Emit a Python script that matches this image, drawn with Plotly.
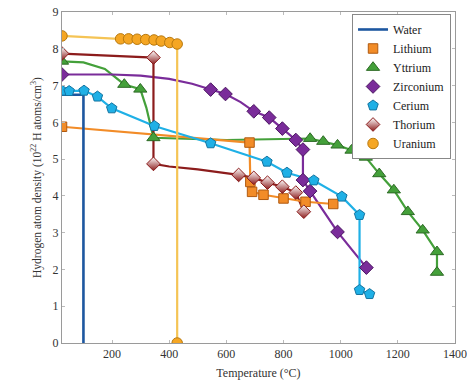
import plotly.graph_objects as go

# ---------------- data ----------------
water_T = [25, 100, 100]
water_H = [6.75, 6.75, 0]

lithium_T = [25, 681, 684, 690, 730, 800, 877, 974]
lithium_H = [5.88, 5.45, 4.38, 4.11, 4.03, 3.93, 3.84, 3.78]

yttrium_line_T = [25, 100, 175, 243, 299, 320, 345, 600, 893, 939, 989, 1038, 1088, 1135, 1186, 1235, 1287, 1337, 1337]
yttrium_line_H = [7.66, 7.63, 7.45, 7.03, 6.9, 6.4, 5.58, 5.52, 5.56, 5.48, 5.38, 5.24, 5.05, 4.6, 4.16, 3.57, 3.07, 2.48, 1.92]
yttrium_mk_T = [25, 243, 299, 345, 893, 939, 989, 1038, 1088, 1135, 1186, 1235, 1287, 1337, 1337]
yttrium_mk_H = [7.66, 7.03, 6.9, 5.58, 5.56, 5.48, 5.38, 5.24, 5.05, 4.6, 4.16, 3.57, 3.07, 2.48, 1.92]

zirconium_line_T = [25, 200, 300, 400, 480, 545, 597, 650, 696, 750, 796, 843, 868, 868, 893, 989, 1090]
zirconium_line_H = [7.3, 7.3, 7.27, 7.18, 7.05, 6.89, 6.77, 6.55, 6.3, 6.13, 5.83, 5.52, 5.26, 4.43, 4.13, 3.02, 2.05]
zirconium_mk_T = [25, 545, 597, 696, 750, 796, 843, 868, 868, 893, 989, 1090]
zirconium_mk_H = [7.3, 6.89, 6.77, 6.3, 6.13, 5.83, 5.52, 5.26, 4.43, 4.13, 3.02, 2.05]

cerium_T = [25, 50, 102, 149, 199, 348, 545, 742, 812, 906, 1004, 1066, 1066, 1101]
cerium_H = [6.86, 6.85, 6.86, 6.7, 6.38, 5.9, 5.43, 4.93, 4.63, 4.42, 3.98, 3.48, 1.44, 1.33]

thorium_line_T = [25, 345, 345, 400, 500, 600, 643, 696, 744, 796, 843, 871]
thorium_line_H = [7.87, 7.76, 4.87, 4.8, 4.72, 4.62, 4.57, 4.49, 4.36, 4.25, 4.09, 3.57]
thorium_mk_T = [25, 345, 345, 643, 696, 744, 796, 843, 871]
thorium_mk_H = [7.87, 7.76, 4.87, 4.57, 4.49, 4.36, 4.25, 4.09, 3.57]

uranium_T = [25, 230, 258, 288, 318, 347, 372, 402, 428, 428]
uranium_H = [8.35, 8.27, 8.27, 8.26, 8.25, 8.24, 8.21, 8.17, 8.13, 0]

x_ticks = [200, 400, 600, 800, 1000, 1200, 1400]
y_ticks = [0, 1, 2, 3, 4, 5, 6, 7, 8, 9]

# ---------------- styles ----------------
C_WATER = "#1d57a0"
C_LI = "#f28c28"
C_Y = "#44a03a"
C_ZR = "#7a2c9a"
C_CE = "#1fb0e6"
C_TH = "#8c1c1c"
LW = 2.2

fig = go.Figure()

def add_line(x, y, color, width=LW):
    fig.add_trace(go.Scatter(x=x, y=y, mode="lines", line=dict(color=color, width=width),
                             showlegend=False, hoverinfo="skip"))

add_line(yttrium_line_T, yttrium_line_H, C_Y)
add_line(zirconium_line_T, zirconium_line_H, C_ZR)
add_line(thorium_line_T, thorium_line_H, C_TH)
add_line(lithium_T, lithium_H, C_LI)
add_line(cerium_T, cerium_H, C_CE)
add_line(uranium_T, uranium_H, "#f5c455")

fig.add_trace(go.Scatter(x=water_T, y=water_H, mode="lines", name="Water",
                         line=dict(color=C_WATER, width=2.6)))

def add_markers(x, y, name, symbol, color, edge, size, gradient=None):
    marker = dict(symbol=symbol, size=size, color=color, line=dict(color=edge, width=1))
    if gradient:
        marker["gradient"] = gradient
    fig.add_trace(go.Scatter(x=x, y=y, mode="markers", name=name, marker=marker))

add_markers(lithium_T, lithium_H, "Lithium", "square", C_LI, "#b05a10", 9.5)
add_markers(yttrium_mk_T, yttrium_mk_H, "Yttrium", "triangle-up", C_Y, "#2d6a25", 11.5)
add_markers(zirconium_mk_T, zirconium_mk_H, "Zirconium", "diamond", C_ZR, "#4a1560", 10.5)
add_markers(cerium_T, cerium_H, "Cerium", "pentagon", C_CE, "#1474a0", 11)
add_markers(thorium_mk_T, thorium_mk_H, "Thorium", "diamond", "white", C_TH, 10.5,
            gradient=dict(type="vertical", color=C_TH))
add_markers(uranium_T, uranium_H, "Uranium", "circle", "#f5a623", "#b8790f", 10.5)

FONT = "Liberation Serif"
axis_common = dict(showgrid=False, zeroline=False, showline=True, linecolor="#9a9a9a",
                   linewidth=1, mirror="ticks", ticks="inside", ticklen=3, tickcolor="#bbbbbb",
                   automargin=False,
                   tickfont=dict(family=FONT, size=12, color="#333"))

fig.update_layout(
    width=467, height=385,
    margin=dict(l=62, r=12, t=12, b=42, autoexpand=False),
    paper_bgcolor="white", plot_bgcolor="white",
    font=dict(family=FONT, size=12, color="#333"),
    xaxis=dict(range=[25, 1400], tickvals=x_ticks,
               title=dict(text="Temperature (°C)", font=dict(family=FONT, size=12), standoff=8),
               **axis_common),
    yaxis=dict(range=[0, 9], tickvals=y_ticks,
               title=dict(text="Hydrogen atom density (10<sup>22</sup> H atoms/cm<sup>3</sup>)",
                          font=dict(family=FONT, size=11.5), standoff=8),
               **axis_common),
    legend=dict(x=0.738, y=0.994, xanchor="left", yanchor="top",
                bgcolor="white", bordercolor="#888", borderwidth=1,
                font=dict(family=FONT, size=12, color="#222"),
                itemwidth=30, tracegroupgap=0),
)

fig.write_html("out.html", config={"displayModeBar": False},
               post_script="document.body.style.margin='0';")
